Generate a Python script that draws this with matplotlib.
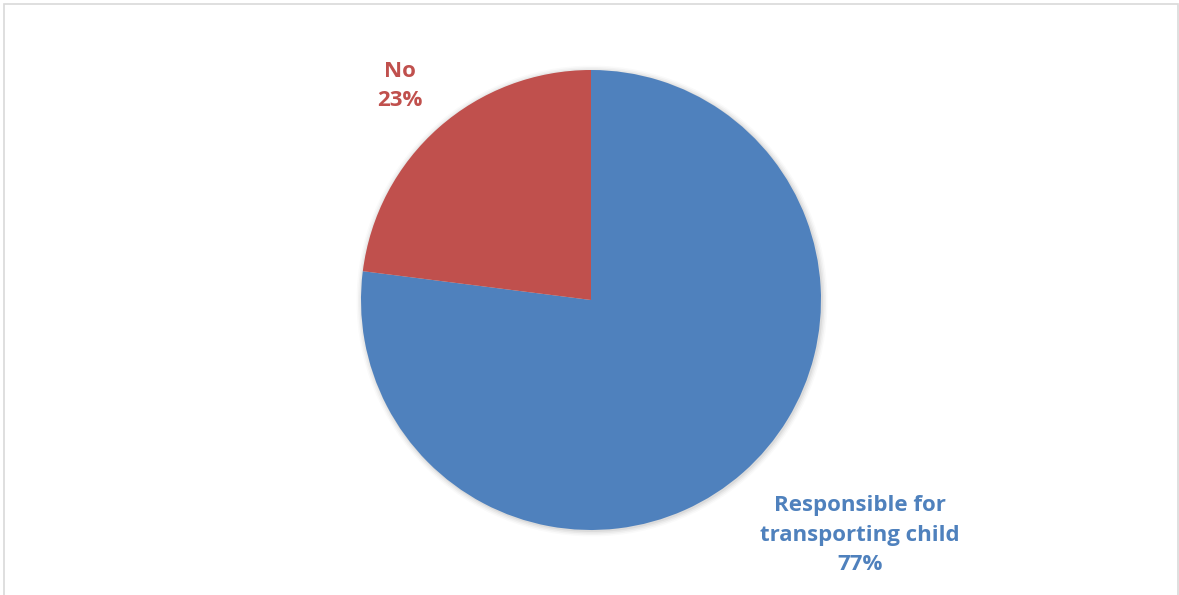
import matplotlib
matplotlib.use("Agg")
import matplotlib.pyplot as plt
from matplotlib.patches import Rectangle, Circle

labels = ["Responsible for\ntransporting child", "No"]
values = [77, 23]
colors = ["#4F81BD", "#C0504D"]

W, H = 1179, 595
fig = plt.figure(figsize=(W / 100, H / 100), dpi=100)
ax = fig.add_axes([0, 0, 1, 1])
ax.set_xlim(0, W)
ax.set_ylim(0, H)
ax.set_aspect("equal")
ax.axis("off")

cx, cy, r = 591, 595 - 300, 230

# soft shadow
for i, a in enumerate([0.05, 0.04, 0.03, 0.02]):
    ax.add_patch(Circle((cx + 1, cy - 1), r + 1 + i * 1.5, color="#000000", alpha=a, lw=0, zorder=0))

ax.pie(values, colors=colors, startangle=90, counterclock=False, center=(cx, cy),
       radius=r, frame=True, wedgeprops=dict(linewidth=0))
ax.set_xlim(0, W)
ax.set_ylim(0, H)
ax.axis("off")

font = "Open Sans"
ax.text(860, 595 - 535, f"{labels[0]}\n{values[0]}%", ha="center", va="center",
        color=colors[0], fontsize=16, fontweight="bold", family=font, linespacing=1.55)
ax.text(400, 595 - 86, f"{labels[1]}\n{values[1]}%", ha="center", va="center",
        color=colors[1], fontsize=16, fontweight="bold", family=font, linespacing=1.55)

ax.add_patch(Rectangle((3.5, -5), 1174, 595 - 3.5 + 5, fill=False, edgecolor="#D9D9D9", lw=1.2, zorder=5))

fig.savefig("out.png", dpi=100)
